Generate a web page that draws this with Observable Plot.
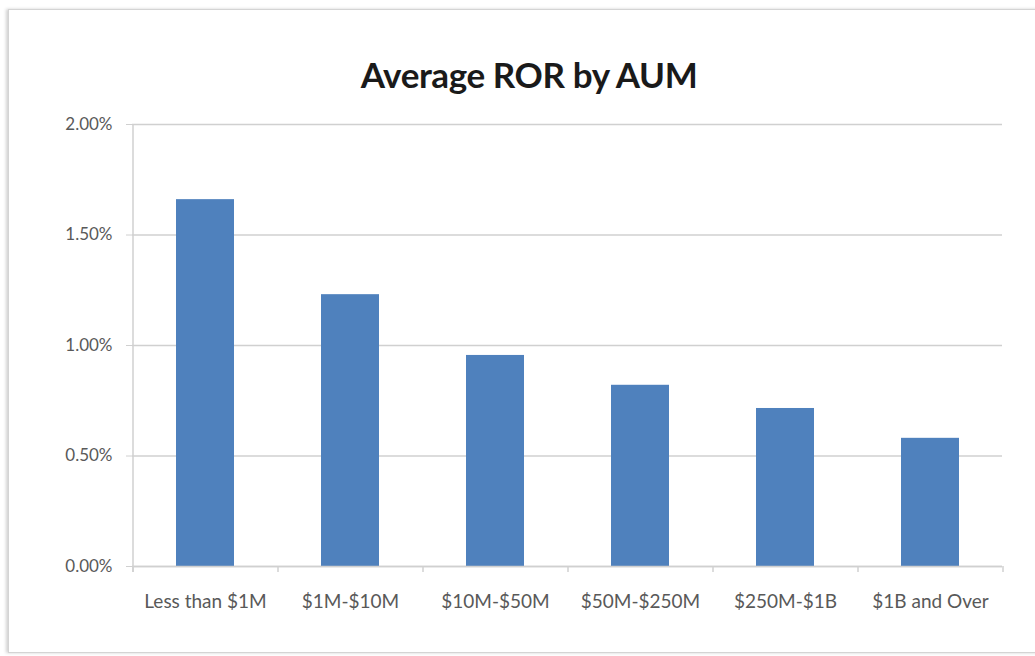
<!DOCTYPE html>
<html>
<head>
<meta charset="utf-8">
<script src="https://cdn.jsdelivr.net/npm/d3@7"></script>
<script src="https://cdn.jsdelivr.net/npm/@observablehq/plot@0.6"></script>
<style>
  html, body { margin: 0; padding: 0; background: #ffffff; }
  #wrap { position: relative; width: 1035px; height: 656px; overflow: hidden; background: #ffffff; }
  #frame { position: absolute; left: 8px; top: 9px; width: 1060px; height: 644px;
           border: 1px solid #d4d4d4; box-shadow: -2px 0 3px rgba(0,0,0,0.18); box-sizing: border-box; }
  #title { position: absolute; left: 0; top: 57px; width: 1058px; text-align: center;
           font-family: Lato, "Open Sans", sans-serif; font-weight: 700; font-size: 35px; line-height: 1;
           color: #1a1a1a; letter-spacing: -0.4px; }
  #chart { position: absolute; left: 0; top: 105px; }
</style>
</head>
<body>
<div id="wrap">
  <div id="frame"></div>
  <div id="title">Average ROR by AUM</div>
  <div id="chart"></div>
</div>
<script>
const categories = ["Less than $1M", "$1M-$10M", "$10M-$50M", "$50M-$250M", "$250M-$1B", "$1B and Over"];
const rorPercent = [1.66, 1.23, 0.955, 0.82, 0.715, 0.58];
const yTicks = [0, 0.5, 1, 1.5, 2];

const data = categories.map((c, i) => ({category: c, value: rorPercent[i]}));

const W = 1035, H = 551;
const mL = 132, mR = 33, mT = 19, mB = 90;
const step = (W - mL - mR) / categories.length;
const gridColor = "#d0d0d0";
const textColor = "#595959";

const chart = Plot.plot({
  width: W,
  height: H,
  marginLeft: mL,
  marginRight: mR,
  marginTop: mT,
  marginBottom: mB,
  style: {fontFamily: "Lato, 'Open Sans', sans-serif", background: "transparent"},
  x: {domain: categories, paddingInner: 0.6, paddingOuter: 0.3, label: null},
  y: {domain: [0, 2], label: null},
  marks: [
    Plot.gridY(yTicks, {stroke: gridColor, strokeOpacity: 1, strokeWidth: 1.5}),
    Plot.axisY(yTicks, {tickSize: 6, tickPadding: 14, stroke: gridColor, strokeOpacity: 1, label: null,
      fontSize: 17, fill: textColor, tickFormat: d => d.toFixed(2) + "%"}),
    Plot.axisX({tickSize: 0, tickPadding: 28, fontSize: 19, fill: textColor, label: null}),
    Plot.barY(data, {x: "category", y: "value", fill: "#4f81bd"}),
    Plot.ruleY([0], {stroke: gridColor, strokeWidth: 1.5}),
    Plot.ruleX([categories[0]], {x: d => d, y1: 2, y2: 0, dx: -step / 2, insetBottom: -6, stroke: gridColor, strokeWidth: 1.5}),
    Plot.ruleX(categories, {x: d => d, y1: 0, y2: 0, dx: -step / 2, insetBottom: -6, stroke: gridColor, strokeWidth: 1.5}),
    Plot.ruleX([categories[categories.length - 1]], {x: d => d, y1: 0, y2: 0, dx: step / 2, insetBottom: -6, stroke: gridColor, strokeWidth: 1.5})
  ]
});
document.getElementById("chart").appendChild(chart);
</script>
</body>
</html>
